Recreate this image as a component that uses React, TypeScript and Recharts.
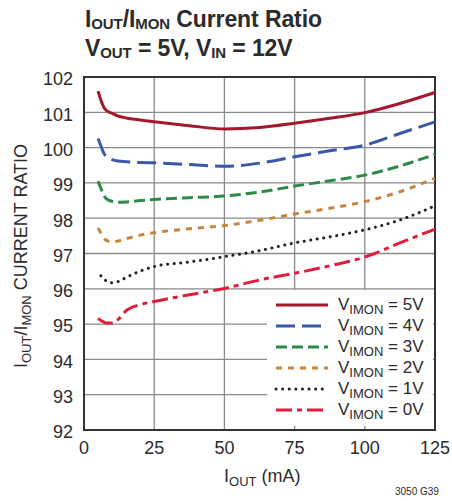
import { CartesianGrid, Legend, Line, LineChart, ReferenceArea, XAxis, YAxis } from "recharts";

const xs = [5, 6, 7, 8, 10, 12, 15, 20, 25, 37.5, 50, 62.5, 75, 87.5, 100, 112.5, 125];

const v5 = [101.6, 101.35, 101.15, 101.05, 100.97, 100.9, 100.84, 100.78, 100.73, 100.62, 100.53, 100.57, 100.69, 100.83, 100.99, 101.25, 101.56];
const v4 = [100.26, 100.05, 99.85, 99.74, 99.66, 99.62, 99.6, 99.58, 99.57, 99.52, 99.47, 99.56, 99.74, 99.91, 100.07, 100.4, 100.73];
const v3 = [99.05, 98.85, 98.65, 98.55, 98.48, 98.45, 98.46, 98.5, 98.53, 98.58, 98.63, 98.74, 98.91, 99.06, 99.22, 99.48, 99.81];
const v2 = [97.72, 97.58, 97.45, 97.37, 97.33, 97.35, 97.42, 97.52, 97.59, 97.7, 97.79, 97.94, 98.12, 98.28, 98.47, 98.75, 99.13];
const v1 = [null, 96.37, 96.28, 96.22, 96.17, 96.2, 96.32, 96.5, 96.63, 96.76, 96.91, 97.08, 97.3, 97.47, 97.67, 97.95, 98.35];
const v0 = [95.16, 95.1, 95.06, 95.03, 95.03, 95.12, 95.38, 95.55, 95.64, 95.83, 96.01, 96.25, 96.44, 96.65, 96.9, 97.3, 97.69];

const xTicks = [0, 25, 50, 75, 100, 125];
const yTicks = [92, 93, 94, 95, 96, 97, 98, 99, 100, 101, 102];

const series = [
  { key: "v5", label: "5V", values: v5, color: "#a3182b", dash: undefined, width: 3 },
  { key: "v4", label: "4V", values: v4, color: "#3a58a8", dash: "19 7", width: 3 },
  { key: "v3", label: "3V", values: v3, color: "#2f8a47", dash: "11 5", width: 3 },
  { key: "v2", label: "2V", values: v2, color: "#c7843d", dash: "6 6", width: 3 },
  { key: "v1", label: "1V", values: v1, color: "#222222", dash: "0.1 6.5", width: 3 },
  { key: "v0", label: "0V", values: v0, color: "#e21d3a", dash: "16 5 5 5", width: 3 },
];

const data = xs.map((x, i) => {
  const row: Record<string, number | null> = { x };
  series.forEach((s) => {
    row[s.key] = s.values[i];
  });
  return row;
});

const FONT = "'Liberation Sans', Arial, sans-serif";
const TEXT = "#2b2b2b";

const sub = { fontSize: 15, position: "relative" as const, top: 2 };

function LegendBox() {
  return (
    <div style={{ fontFamily: FONT, color: TEXT }}>
      {series.map((s, i) => (
        <div
          key={s.key}
          style={{ position: "absolute", left: 0, top: 4 + i * 21, height: 21, display: "flex", alignItems: "center" }}
        >
          <svg width={64} height={21}>
            <line
              x1={9}
              x2={61}
              y1={11}
              y2={11}
              stroke={s.color}
              strokeWidth={s.width}
              strokeDasharray={s.dash}
              strokeLinecap={s.key === "v1" ? "round" : "butt"}
            />
          </svg>
          <span style={{ fontSize: 17, marginLeft: 7, whiteSpace: "nowrap" }}>
            V<span style={{ fontSize: 13, position: "relative", top: 4 }}>IMON</span> = {s.label}
          </span>
        </div>
      ))}
    </div>
  );
}

function YLabel() {
  const cx = 27;
  const cy = 256;
  return (
    <text
      x={cx}
      y={cy}
      transform={`rotate(-90, ${cx}, ${cy})`}
      textAnchor="middle"
      fontFamily={FONT}
      fontSize={18}
      fill={TEXT}
    >
      I
      <tspan fontSize={13} dy={4}>OUT</tspan>
      <tspan dy={-4}>/I</tspan>
      <tspan fontSize={13} dy={4}>MON</tspan>
      <tspan dy={-4}> CURRENT RATIO</tspan>
    </text>
  );
}

function XLabel() {
  return (
    <text x={224} y={482} fontFamily={FONT} fontSize={18} fill={TEXT}>
      I
      <tspan fontSize={13} dy={4}>OUT</tspan>
      <tspan dy={-4}> (mA)</tspan>
    </text>
  );
}

export default function App() {
  return (
    <div style={{ position: "absolute", left: 0, top: 0, width: 452, height: 501, background: "#fff", fontFamily: FONT }}>
      <div
        style={{
          position: "absolute",
          left: 85,
          top: 6,
          fontSize: 23,
          lineHeight: "26px",
          fontWeight: 700,
          letterSpacing: -0.1,
          color: TEXT,
          whiteSpace: "nowrap",
          zIndex: 2,
        }}
      >
        <div>
          I<span style={sub}>OUT</span>/I<span style={sub}>MON</span> Current Ratio
        </div>
        <div>
          V<span style={sub}>OUT</span> = 5V, V<span style={sub}>IN</span> = 12V
        </div>
      </div>
      <LineChart width={452} height={501} data={data} margin={{ top: 77, right: 17, bottom: 0, left: 0 }}>
        <CartesianGrid stroke="#8a8a8a" strokeWidth={1.3} />
        <XAxis
          dataKey="x"
          type="number"
          domain={[0, 125]}
          ticks={xTicks}
          height={71}
          axisLine={false}
          tickLine={false}
          tickSize={0}
          tickMargin={11}
          tick={{ fontSize: 18, fill: TEXT, fontFamily: FONT }}
          label={<XLabel />}
        />
        <YAxis
          type="number"
          domain={[92, 102]}
          ticks={yTicks}
          width={84}
          axisLine={false}
          tickLine={false}
          tickSize={0}
          tickMargin={11}
          tick={{ fontSize: 18, fill: TEXT, fontFamily: FONT, dy: 2 }}
          label={<YLabel />}
        />
        <ReferenceArea x1={0} x2={125} y1={92} y2={102} fill="none" stroke="#333" strokeWidth={2} ifOverflow="visible" />
        {series.map((s) => (
          <Line
            key={s.key}
            type="monotone"
            dataKey={s.key}
            stroke={s.color}
            strokeWidth={s.width}
            strokeDasharray={s.dash}
            strokeLinecap={s.key === "v1" ? "round" : "butt"}
            dot={false}
            activeDot={false}
            connectNulls={false}
            isAnimationActive={false}
          />
        ))}
        <Legend
          layout="horizontal"
          verticalAlign="middle"
          align="center"
          content={() => <LegendBox />}
          wrapperStyle={{ position: "absolute", left: 267, top: 290, width: 166, height: 136, background: "#fff" }}
        />
      </LineChart>
      <div style={{ position: "absolute", left: 395, top: 486, fontSize: 10, color: TEXT }}>3050 G39</div>
    </div>
  );
}
